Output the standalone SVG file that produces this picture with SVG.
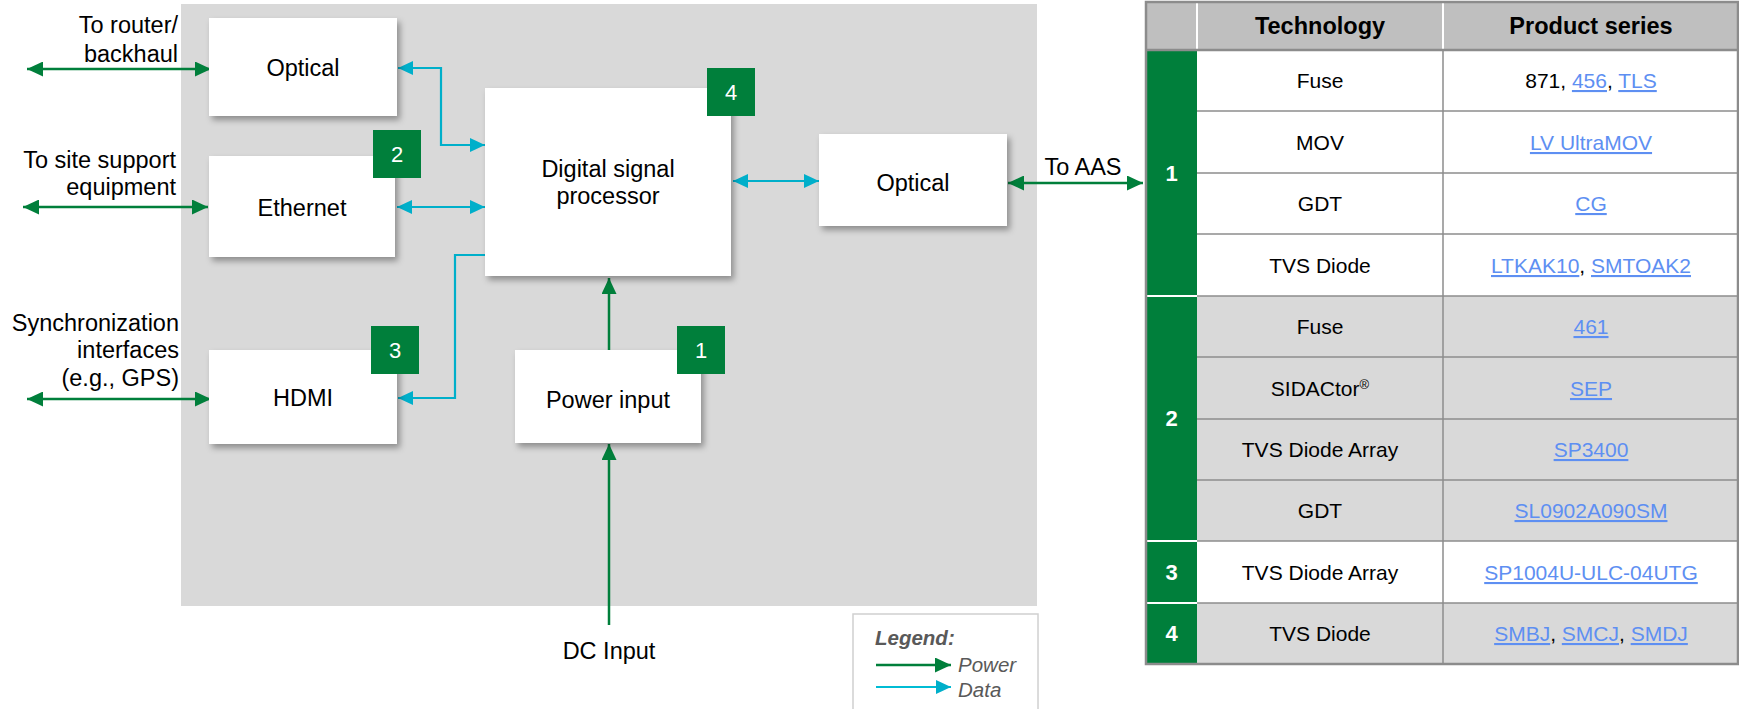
<svg xmlns="http://www.w3.org/2000/svg" width="1739" height="709" viewBox="0 0 1739 709">
<style>
text{font-family:"Liberation Sans",Arial,sans-serif;fill:#000}
.t{font-size:23.5px}
.box{fill:#fff;filter:url(#sh)}
.badge{fill:#007F3B}
.bn{font-size:22px;fill:#fff;text-anchor:middle}
.g{stroke:#007F3B;stroke-width:2.5;fill:none}
.c{stroke:#00AFCA;stroke-width:2.2;fill:none}
.tb{font-size:21px;text-anchor:middle}
.th{font-size:23.5px;font-weight:bold;text-anchor:middle}
.tn{font-size:22px;font-weight:bold;fill:#fff;text-anchor:middle}
.lk{fill:#5E8FF2;text-decoration:underline}
.rl{stroke:#8C8C8C;stroke-width:1.5}
.lg{font-size:20.5px;font-style:italic;fill:#595959}
</style>
<defs>
<filter id="sh" x="-10%" y="-10%" width="130%" height="140%">
<feDropShadow dx="3" dy="4" stdDeviation="3" flood-color="#000" flood-opacity="0.35"/>
</filter>
<marker id="ag" markerUnits="userSpaceOnUse" markerWidth="16" markerHeight="15" refX="16" refY="7.5" orient="auto-start-reverse">
<path d="M0,0 L16,7.5 L0,15 z" fill="#007F3B"/>
</marker>
<marker id="ac" markerUnits="userSpaceOnUse" markerWidth="15" markerHeight="14" refX="15" refY="7" orient="auto-start-reverse">
<path d="M0,0 L15,7 L0,14 z" fill="#00AFCA"/>
</marker>
</defs>

<rect x="0" y="0" width="1739" height="709" fill="#fff"/>
<rect id="board" x="181" y="4" width="856" height="602" fill="#D9D9D9"/>

<g id="labels">
<text class="t" text-anchor="end" x="178" y="33">To router/</text>
<text class="t" text-anchor="end" x="178" y="62">backhaul</text>
<text class="t" text-anchor="end" x="176" y="168">To site support</text>
<text class="t" text-anchor="end" x="176" y="195">equipment</text>
<text class="t" text-anchor="end" x="179" y="331">Synchronization</text>
<text class="t" text-anchor="end" x="179" y="358">interfaces</text>
<text class="t" text-anchor="end" x="179" y="386">(e.g., GPS)</text>
<text class="t" text-anchor="middle" x="1083" y="175">To AAS</text>
<text class="t" text-anchor="middle" x="609" y="659">DC Input</text>
</g>

<g id="connectors">
<line class="g" x1="27" y1="69" x2="211" y2="69" marker-start="url(#ag)" marker-end="url(#ag)"/>
<line class="g" x1="23" y1="207" x2="208" y2="207" marker-start="url(#ag)" marker-end="url(#ag)"/>
<line class="g" x1="27" y1="399" x2="211" y2="399" marker-start="url(#ag)" marker-end="url(#ag)"/>
<line class="g" x1="609" y1="350" x2="609" y2="278" marker-end="url(#ag)"/>
<line class="g" x1="609" y1="625" x2="609" y2="444" marker-end="url(#ag)"/>
<line class="g" x1="1008" y1="183" x2="1143" y2="183" marker-start="url(#ag)" marker-end="url(#ag)"/>
<path class="c" d="M398,68 H441 V145 H485" marker-start="url(#ac)" marker-end="url(#ac)"/>
<line class="c" x1="397" y1="207" x2="485" y2="207" marker-start="url(#ac)" marker-end="url(#ac)"/>
<path class="c" d="M487,255 H455 V398 H398" marker-end="url(#ac)"/>
<line class="c" x1="733" y1="181" x2="819" y2="181" marker-start="url(#ac)" marker-end="url(#ac)"/>
</g>

<g id="optical1">
<rect class="box" x="209" y="18" width="188" height="98"/>
<text class="t" text-anchor="middle" x="303" y="76">Optical</text>
</g>
<g id="ethernet">
<rect class="box" x="209" y="156" width="186" height="101"/>
<text class="t" text-anchor="middle" x="302" y="216">Ethernet</text>
<rect class="badge" x="373" y="130" width="48" height="48"/>
<text class="bn" x="397" y="162">2</text>
</g>
<g id="hdmi">
<rect class="box" x="209" y="350" width="188" height="94"/>
<text class="t" text-anchor="middle" x="303" y="406">HDMI</text>
<rect class="badge" x="371" y="326" width="48" height="48"/>
<text class="bn" x="395" y="358">3</text>
</g>
<g id="dsp">
<rect class="box" x="485" y="88" width="246" height="188"/>
<text class="t" text-anchor="middle" x="608" y="177">Digital signal</text>
<text class="t" text-anchor="middle" x="608" y="204">processor</text>
<rect class="badge" x="707" y="68" width="48" height="48"/>
<text class="bn" x="731" y="100">4</text>
</g>
<g id="power">
<rect class="box" x="515" y="350" width="186" height="93"/>
<text class="t" text-anchor="middle" x="608" y="408">Power input</text>
<rect class="badge" x="677" y="326" width="48" height="48"/>
<text class="bn" x="701" y="358">1</text>
</g>
<g id="optical2">
<rect class="box" x="819" y="134" width="188" height="92"/>
<text class="t" text-anchor="middle" x="913" y="191">Optical</text>
</g>

<g id="legend">
<rect x="853" y="614" width="185" height="100" fill="#fff" stroke="#D0D0D0" stroke-width="1.5"/>
<text class="lg" x="875" y="645" font-weight="bold">Legend:</text>
<line x1="876" y1="665" x2="951" y2="665" stroke="#007F3B" stroke-width="2.5" marker-end="url(#ag)"/>
<text class="lg" x="958" y="672">Power</text>
<line x1="876" y1="687" x2="951" y2="687" stroke="#00BCD4" stroke-width="2.2" marker-end="url(#ac)"/>
<text class="lg" x="958" y="697">Data</text>
</g>

<g id="table">
<rect x="1146" y="2" width="592" height="48" fill="#BFBFBF"/>
<rect x="1197" y="50" width="541" height="246" fill="#fff"/>
<rect x="1197" y="296" width="541" height="245" fill="#D9D9D9"/>
<rect x="1197" y="541" width="541" height="62" fill="#fff"/>
<rect x="1197" y="603" width="541" height="61" fill="#D9D9D9"/>
<rect x="1146" y="50" width="51" height="614" fill="#007F3B"/>
<line x1="1197" y1="3" x2="1197" y2="49" stroke="#fff" stroke-width="2"/>
<line x1="1443" y1="3" x2="1443" y2="49" stroke="#fff" stroke-width="2"/>
<g stroke="#fff" stroke-width="2">
<line x1="1146" y1="296" x2="1197" y2="296"/>
<line x1="1146" y1="541" x2="1197" y2="541"/>
<line x1="1146" y1="603" x2="1197" y2="603"/>
</g>
<g class="rl">
<line x1="1197" y1="111" x2="1738" y2="111"/>
<line x1="1197" y1="173" x2="1738" y2="173"/>
<line x1="1197" y1="234" x2="1738" y2="234"/>
<line x1="1197" y1="296" x2="1738" y2="296"/>
<line x1="1197" y1="357" x2="1738" y2="357"/>
<line x1="1197" y1="419" x2="1738" y2="419"/>
<line x1="1197" y1="480" x2="1738" y2="480"/>
<line x1="1197" y1="541" x2="1738" y2="541"/>
<line x1="1197" y1="603" x2="1738" y2="603"/>
<line x1="1443" y1="50" x2="1443" y2="664"/>
</g>
<line x1="1146" y1="50" x2="1738" y2="50" stroke="#8C8C8C" stroke-width="2.5"/>
<rect x="1146" y="2" width="592" height="662" fill="none" stroke="#8C8C8C" stroke-width="2.5"/>

<text class="th" x="1320" y="34">Technology</text>
<text class="th" x="1591" y="34">Product series</text>

<text class="tn" x="1171.5" y="181">1</text>
<text class="tn" x="1171.5" y="426">2</text>
<text class="tn" x="1171.5" y="580">3</text>
<text class="tn" x="1171.5" y="641">4</text>

<text class="tb" x="1320" y="88">Fuse</text>
<text class="tb" x="1320" y="150">MOV</text>
<text class="tb" x="1320" y="211">GDT</text>
<text class="tb" x="1320" y="273">TVS Diode</text>
<text class="tb" x="1320" y="334">Fuse</text>
<text class="tb" x="1320" y="396">SIDACtor<tspan font-size="13" dy="-7">®</tspan></text>
<text class="tb" x="1320" y="457">TVS Diode Array</text>
<text class="tb" x="1320" y="518">GDT</text>
<text class="tb" x="1320" y="580">TVS Diode Array</text>
<text class="tb" x="1320" y="641">TVS Diode</text>

<text class="tb" x="1591" y="88">871, <tspan class="lk">456</tspan>, <tspan class="lk">TLS</tspan></text>
<text class="tb" x="1591" y="150"><tspan class="lk">LV UltraMOV</tspan></text>
<text class="tb" x="1591" y="211"><tspan class="lk">CG</tspan></text>
<text class="tb" x="1591" y="273"><tspan class="lk">LTKAK10</tspan>, <tspan class="lk">SMTOAK2</tspan></text>
<text class="tb" x="1591" y="334"><tspan class="lk">461</tspan></text>
<text class="tb" x="1591" y="396"><tspan class="lk">SEP</tspan></text>
<text class="tb" x="1591" y="457"><tspan class="lk">SP3400</tspan></text>
<text class="tb" x="1591" y="518"><tspan class="lk">SL0902A090SM</tspan></text>
<text class="tb" x="1591" y="580"><tspan class="lk">SP1004U-ULC-04UTG</tspan></text>
<text class="tb" x="1591" y="641"><tspan class="lk">SMBJ</tspan>, <tspan class="lk">SMCJ</tspan>, <tspan class="lk">SMDJ</tspan></text>
</g>
</svg>
